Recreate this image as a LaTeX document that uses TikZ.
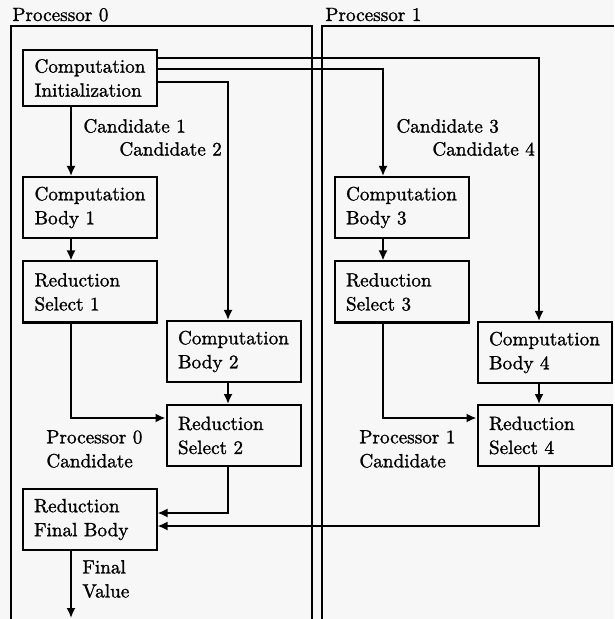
\documentclass[tikz,border=0pt]{standalone}
\usepackage{fontspec}
\setmainfont{Latin Modern Roman}[FakeBold=1.2]
\usetikzlibrary{arrows.meta,calc}
\begin{document}
\begin{tikzpicture}[x=0.5pt,y=-0.5pt,
  box/.style={draw,line width=1pt,text width=55.5pt,inner xsep=5.75pt,inner ysep=2pt,
    align=left,minimum height=30.5pt,font=\fontsize{9.6}{12}\selectfont},
  lbl/.style={align=left,inner sep=0pt,font=\fontsize{9.6}{12}\selectfont},
  arr/.style={line width=0.9pt,-{Latex[length=5pt,width=4.5pt]}},
  frame/.style={line width=0.8pt}]
\useasboundingbox[fill=black!3] (0,0) rectangle (614,619);
% frames
\draw[frame] (11,619) -- (11,26) -- (312,26) -- (312,619);
\draw[frame] (322,619) -- (322,26) -- (614,26);
\node[lbl,anchor=base west] (p0) at (12,21) {Processor 0};
\node[lbl,anchor=base west] (p1) at (325,21) {Processor 1};
% columns and rows
\coordinate (c1) at (71,0);
\coordinate (c2) at (228,0);
\coordinate (c3) at (383,0);
\coordinate (c4) at (539,0);
\coordinate (r4) at (0,58);
\coordinate (r3) at (0,69);
\coordinate (r2) at (0,82);
\coordinate (m1) at (0,418);
\coordinate (m2) at (0,513);
\coordinate (m3) at (0,526);
% boxes
\node[box,minimum height=28pt] (init) at (90,78) {Computation\\Initialization};
\node[box] (body1) at (90,207.5) {Computation\\Body 1};
\node[box] (sel1) at (90,292) {Reduction\\Select 1};
\node[box] (body2) at (233.5,351.5) {Computation\\Body 2};
\node[box] (sel2) at (233.5,435.5) {Reduction\\Select 2};
\node[box] (final) at (89.5,519.5) {Reduction\\Final Body};
\node[box] (body3) at (401.5,207.5) {Computation\\Body 3};
\node[box] (sel3) at (401.5,292) {Reduction\\Select 3};
\node[box] (body4) at (544.5,352.5) {Computation\\Body 4};
\node[box] (sel4) at (544.5,435.5) {Reduction\\Select 4};
% labels
\node[lbl,anchor=west] (l1) at (83,126) {Candidate 1};
\node[lbl,anchor=west] (l2) at (119,149) {Candidate 2};
\node[lbl,anchor=west] (l3) at (396,126) {Candidate 3};
\node[lbl,anchor=west] (l4) at (432,149) {Candidate 4};
\node[lbl,anchor=west] (pc0) at (46,449) {Processor 0\\Candidate};
\node[lbl,anchor=west] (pc1) at (359,449) {Processor 1\\Candidate};
\node[lbl,anchor=west] (fv) at (82,579) {Final\\Value};
\coordinate (out) at (71,618);
% connectors
\draw[arr] (init.south -| c1) -- (body1.north -| c1);
\draw[arr] (init.east |- r2) -| (body2.north -| c2);
\draw[arr] (init.east |- r3) -| (body3.north -| c3);
\draw[arr] (init.east |- r4) -| (body4.north -| c4);
\draw[arr] (body1.south -| c1) -- (sel1.north -| c1);
\draw[arr] (sel1.south -| c1) |- (sel2.west |- m1);
\draw[arr] (body2.south -| c2) -- (sel2.north -| c2);
\draw[arr] (sel2.south -| c2) |- (final.east |- m2);
\draw[arr] (body3.south -| c3) -- (sel3.north -| c3);
\draw[arr] (sel3.south -| c3) |- (sel4.west |- m1);
\draw[arr] (body4.south -| c4) -- (sel4.north -| c4);
\draw[arr] (sel4.south -| c4) |- (final.east |- m3);
\draw[arr] (final.south -| c1) -- (out);
\end{tikzpicture}
\end{document}
